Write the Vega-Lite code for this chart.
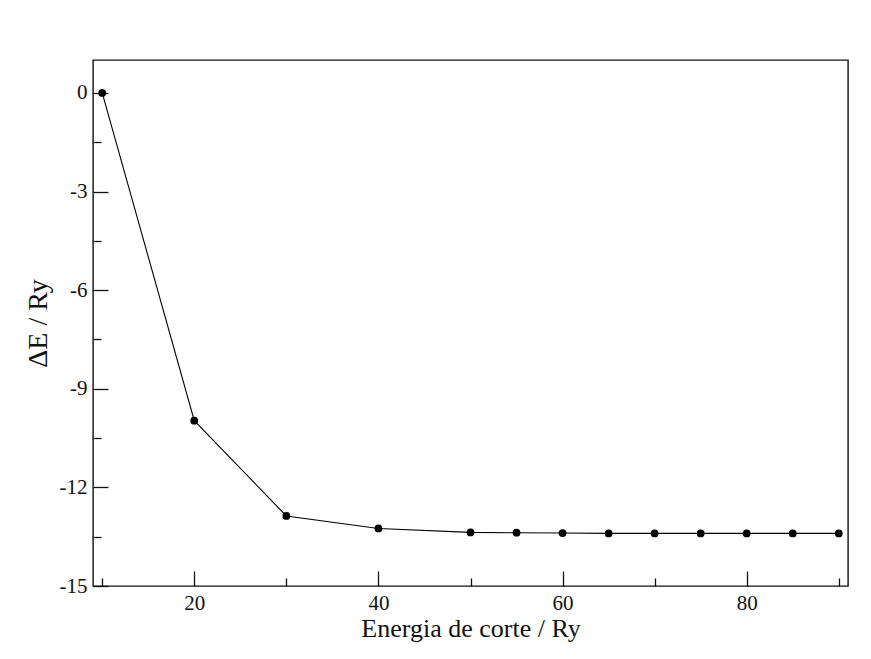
{
  "$schema": "https://vega.github.io/schema/vega-lite/v6.json",
  "width": 755,
  "height": 526,
  "autosize": "none",
  "padding": {"left": 93, "top": 60, "right": 23, "bottom": 73},
  "background": "#ffffff",
  "config": {
    "view": {"stroke": "#111", "strokeWidth": 1.4},
    "axis": {"grid": false, "domain": false, "tickColor": "#111", "tickWidth": 1.3,
             "labelFont": "Liberation Serif", "labelFontSize": 21, "labelColor": "#111",
             "titleFont": "Liberation Serif", "titleFontWeight": "normal", "titleColor": "#111"}
  },
  "data": {"values": [
    {"cutoff": 10, "dE": 0.0},
    {"cutoff": 20, "dE": -9.97},
    {"cutoff": 30, "dE": -12.87},
    {"cutoff": 40, "dE": -13.25},
    {"cutoff": 50, "dE": -13.37},
    {"cutoff": 55, "dE": -13.38},
    {"cutoff": 60, "dE": -13.39},
    {"cutoff": 65, "dE": -13.40},
    {"cutoff": 70, "dE": -13.40},
    {"cutoff": 75, "dE": -13.40},
    {"cutoff": 80, "dE": -13.40},
    {"cutoff": 85, "dE": -13.40},
    {"cutoff": 90, "dE": -13.40}
  ]},
  "resolve": {"axis": {"x": "independent", "y": "independent"}},
  "layer": [
    {
      "mark": {"type": "line", "color": "#000", "strokeWidth": 1.1},
      "encoding": {
        "x": {"field": "cutoff", "type": "quantitative",
              "scale": {"domain": [9, 91], "nice": false, "zero": false},
              "axis": {"orient": "bottom", "values": [20, 40, 60, 80], "tickSize": -15, "labelPadding": 21,
                       "labelExpr": "'' + datum.value",
                       "title": "Energia de corte / Ry", "titleFontSize": 26, "titlePadding": 2}},
        "y": {"field": "dE", "type": "quantitative",
              "scale": {"domain": [-15, 1], "nice": false, "zero": false},
              "axis": {"orient": "left", "values": [-15, -12, -9, -6, -3, 0], "tickSize": -15, "labelPadding": 21,
                       "labelExpr": "'' + datum.value",
                       "title": "ΔE / Ry", "titleFontSize": 28, "titlePadding": 7}}
      }
    },
    {
      "mark": {"type": "point", "shape": "circle", "filled": true, "color": "#000", "size": 60, "opacity": 1},
      "encoding": {
        "x": {"field": "cutoff", "type": "quantitative", "axis": null},
        "y": {"field": "dE", "type": "quantitative", "axis": null}
      }
    },
    {
      "mark": {"type": "point", "opacity": 0},
      "encoding": {
        "x": {"field": "cutoff", "type": "quantitative",
              "axis": {"orient": "bottom", "values": [10, 30, 50, 70, 90], "tickSize": -8, "labels": false, "title": null}},
        "y": {"field": "dE", "type": "quantitative",
              "axis": {"orient": "left", "values": [-13.5, -10.5, -7.5, -4.5, -1.5], "tickSize": -8, "labels": false, "title": null}}
      }
    }
  ]
}
